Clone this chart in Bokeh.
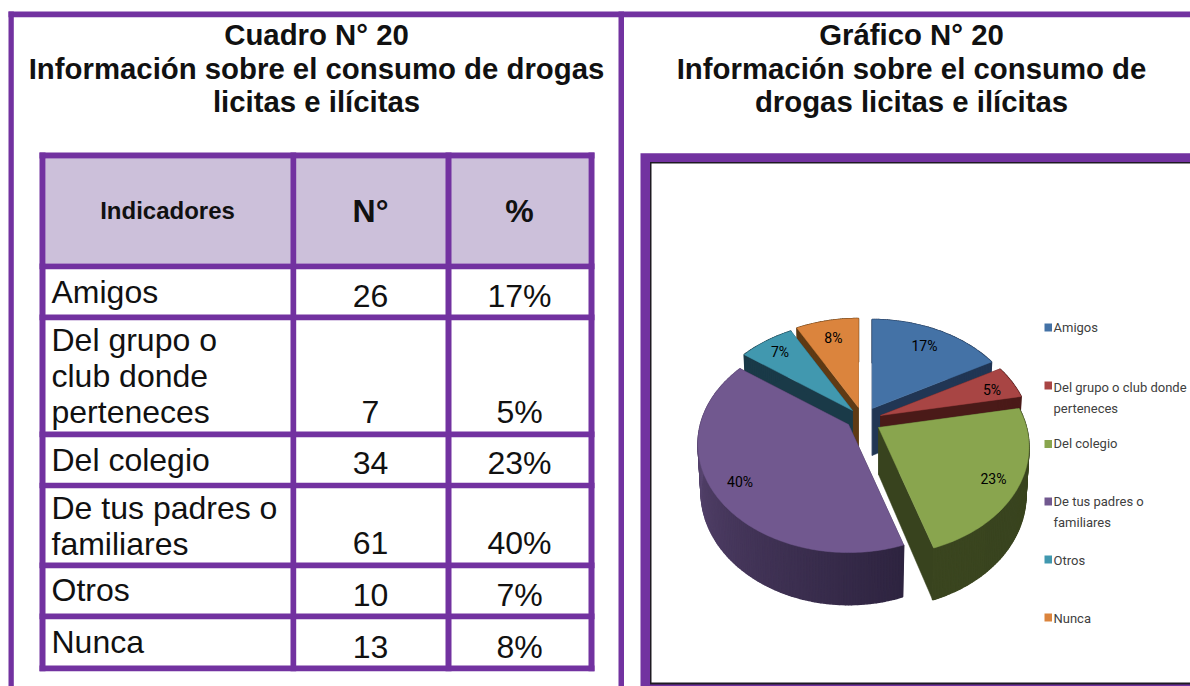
import math
from bokeh.plotting import figure
from bokeh.embed import file_html
from bokeh.resources import INLINE

# ---------- data ----------
indicators = [["Amigos"], ["Del grupo o", "club donde", "perteneces"], ["Del colegio"],
              ["De tus padres o", "familiares"], ["Otros"], ["Nunca"]]
counts = [26, 7, 34, 61, 10, 13]
percents = [17, 5, 23, 40, 7, 8]
legend_lines = [["Amigos"], ["Del grupo o club donde", "perteneces"], ["Del colegio"],
                ["De tus padres o", "familiares"], ["Otros"], ["Nunca"]]
headers = ["Indicadores", "N°", "%"]
left_title = ["Cuadro N° 20", "Información sobre el consumo de drogas", "licitas e ilícitas"]
right_title = ["Gráfico N° 20", "Información sobre el consumo de", "drogas licitas e ilícitas"]

# ---------- styles ----------
PURPLE = "#7232A0"
top_colors = ["#4472A6", "#A84544", "#89A54E", "#71588F", "#4198AF", "#DB843D"]
side_start = ["#213654", "#4A1A18", "#38431E", "#2E2440", "#1A3A48", "#5F3A14"]
side_end = ["#213654", "#4A1A18", "#3A451F", "#665080", "#1A3A48", "#5F3A14"]
legend_colors = top_colors
apex = [(871.7, 408), (880, 415), (878, 427), (848, 424), (852, 410), (858, 407)]
label_frac = [0.80, 0.85, 0.82, 0.81, 0.84, 0.80]
label_dy = [5, 8, 8, 7, 5, 5]
paint_order = [0, 1, 2, 5, 4, 3]
A, B, K = 148.0, 105.0, 0.18      # projected circle: half width, half height, perspective
DEPTH, BOT_X, BOT_Y = 47.0, 0.98, 1.04

TXT = "#111111"
FONT = "Liberation Sans"
NARROW = "Roboto"
BASE_FIX = 0.36  # raises the alphabetic baseline to where the SVG text really lands

p = figure(width=1190, height=686, x_range=(0, 1190), y_range=(686, 0),
           toolbar_location=None, output_backend="svg", min_border=0,
           outline_line_color=None, background_fill_color="white", border_fill_color="white")
p.axis.visible = False
p.grid.visible = False


def band(x0, x1, y0, y1, color):
    p.quad(left=[x0], right=[x1], top=[y0], bottom=[y1], fill_color=color, line_color=None)


def label(x, y, s, size, align="left", bold=False, font=FONT, color=TXT):
    px = float(size.replace("px", ""))
    p.text([x], [y - BASE_FIX * px], text=[s], text_font_size=size, text_align=align,
           text_baseline="alphabetic", text_font={"value": font},
           text_font_style="bold" if bold else "normal", text_color=color)


# ---------- outer frames ----------
band(8, 1190, 11, 16.7, PURPLE)
band(8, 13.3, 11, 686, PURPLE)
band(618, 623.5, 11, 686, PURPLE)

# ---------- titles ----------
for line, y in zip(left_title, [45, 79, 112]):
    label(316, y, line, "29.35px", "center", True)
for line, y in zip(right_title, [45, 79, 112]):
    label(911, y, line, "29.35px", "center", True)

# ---------- table ----------
band(45, 588, 158, 263, "#CCC0DA")
row_lines = [(263, 268.7), (314, 319.7), (431, 436.7), (482.3, 487.7), (562, 567.7), (613, 618.7)]
band(39, 594, 152, 158, PURPLE)
band(39, 594, 665, 670.7, PURPLE)
for y0, y1 in row_lines:
    band(39, 594, y0, y1, PURPLE)
for x0, x1 in [(39, 45), (290, 295.7), (445, 451), (588, 594)]:
    band(x0, x1, 152, 670.7, PURPLE)

label(167, 219, headers[0], "24px", "center", True)
label(370, 222, headers[1], "32px", "center", True)
label(519, 222, headers[2], "32px", "center", True)

row_first_baseline = [303, 351, 471, 519, 601, 653]
row_value_baseline = [306.7, 423.3, 474.3, 554.3, 606, 657.7]
for lines, n, pct, y_first, y_val in zip(indicators, counts, percents, row_first_baseline, row_value_baseline):
    for j, s in enumerate(lines):
        label(51, y_first + j * 36, s, "32px")
    label(370, y_val, str(n), "32px", "center")
    label(519, y_val, f"{pct}%", "32px", "center")

# ---------- chart frame ----------
band(640, 1190, 152.7, 686, PURPLE)
band(649.5, 1190, 161.5, 684, "#1E1A22")
band(651, 1190, 163, 682, "white")

# ---------- 3D pie ----------
total = sum(percents)
cum = [0]
for c in percents:
    cum.append(cum[-1] + c)


def project(deg):
    t = math.radians(deg)
    x, y = math.sin(t), math.cos(t)
    w = 1 + K * y
    return A * x / w, -B * y / w


def mix(c0, c1, t):
    a = [int(c0[i:i + 2], 16) for i in (1, 3, 5)]
    b = [int(c1[i:i + 2], 16) for i in (1, 3, 5)]
    return "#%02x%02x%02x" % tuple(round(a[i] + (b[i] - a[i]) * t) for i in range(3))


xs, ys, cols, widths = [], [], [], []


def poly(px, py, color, w):
    xs.append(px)
    ys.append(py)
    cols.append(color)
    widths.append(w)


for i in paint_order:
    a0 = 360 * cum[i] / total
    a1 = 360 * cum[i + 1] / total
    ax, ay = apex[i]
    n = max(4, int(a1 - a0))
    angs = [a0 + (a1 - a0) * k / n for k in range(n + 1)]
    pts = [project(a) for a in angs]
    top = [(ax + X, ay + Y) for X, Y in pts]
    bot = [(ax + X * BOT_X, ay + DEPTH + Y * BOT_Y) for X, Y in pts]
    # radial walls
    poly([ax, top[0][0], bot[0][0], ax], [ay, top[0][1], bot[0][1], ay + DEPTH], side_start[i], 0.5)
    poly([ax, top[-1][0], bot[-1][0], ax], [ay, top[-1][1], bot[-1][1], ay + DEPTH], side_start[i], 0.5)
    # rim strips
    for k in range(n):
        poly([top[k][0], top[k + 1][0], bot[k + 1][0], bot[k][0]],
             [top[k][1], top[k + 1][1], bot[k + 1][1], bot[k][1]],
             mix(side_start[i], side_end[i], k / n), 1.5)
    # top face
    poly([ax] + [q[0] for q in top], [ay] + [q[1] for q in top], top_colors[i], 0.5)

p.patches(xs, ys, fill_color=cols, line_color=cols, line_width=widths)

for i, pct in enumerate(percents):
    mid = 360 * (cum[i] + cum[i + 1]) / 2 / total
    X, Y = project(mid)
    label(apex[i][0] + X * label_frac[i], apex[i][1] + Y * label_frac[i] + label_dy[i], f"{pct}%", "14px", "center",
          False, NARROW, "#000000")

# ---------- legend ----------
legend_swatch_y = [323, 381, 439.5, 497, 555, 613]
legend_baseline = [332, 392, 448, 506, 565, 623]
for lines, col, sy, by in zip(legend_lines, legend_colors, legend_swatch_y, legend_baseline):
    band(1044, 1051.5, sy, sy + 8, col)
    label(1053, by, lines[0], "13px", "left", False, NARROW, "#404040")
    if len(lines) > 1:
        label(1053, by + 21, lines[1], "13px", "left", False, NARROW, "#404040")

open("out.html", "w").write(file_html(p, INLINE))
